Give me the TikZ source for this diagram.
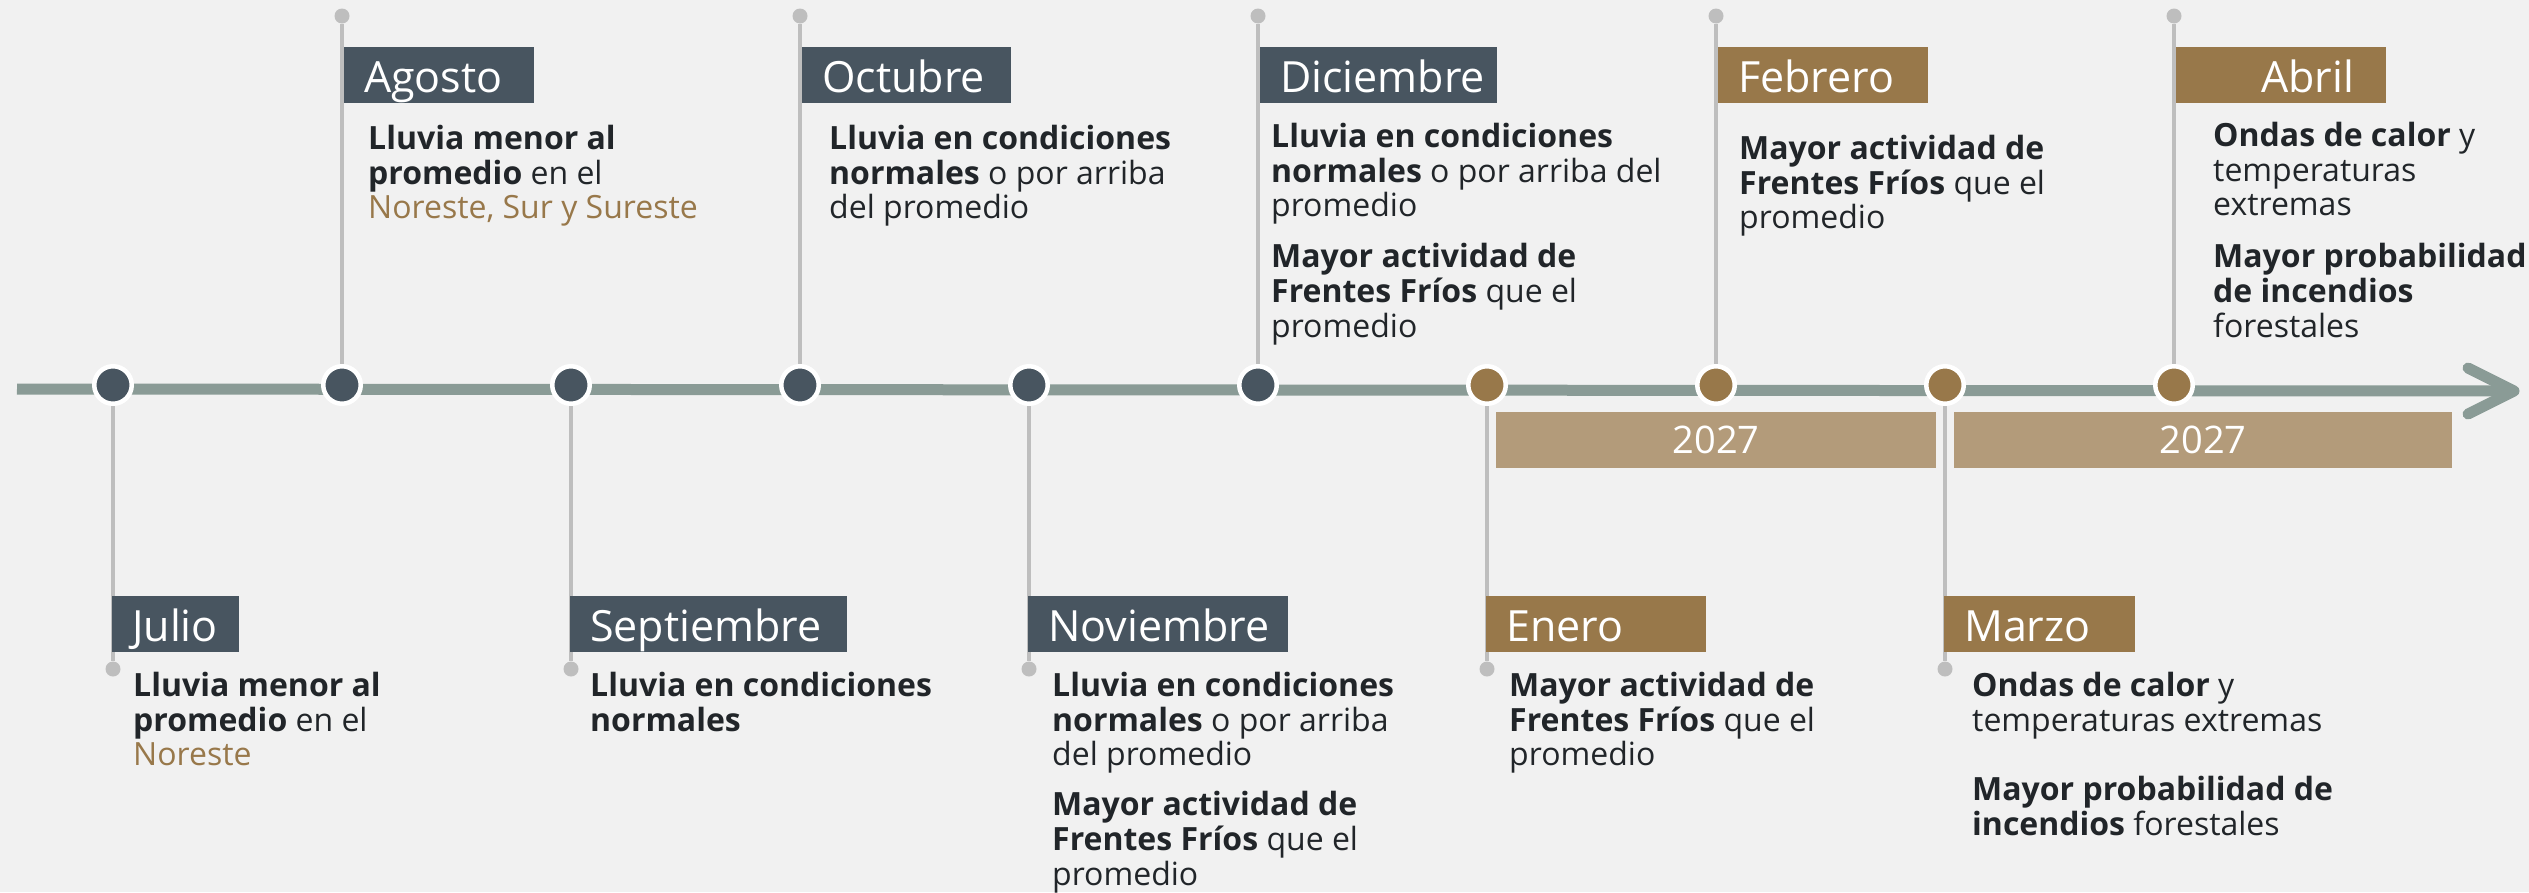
\documentclass[tikz,border=0pt]{standalone}
\usepackage{fontspec}
\setmainfont{Open Sans}
\usetikzlibrary{positioning, calc}

\definecolor{bgcol}{RGB}{241,241,241}
\definecolor{axiscol}{RGB}{138,155,150}
\definecolor{slate}{RGB}{72,85,96}
\definecolor{gold}{RGB}{152,120,74}
\definecolor{tan}{RGB}{179,155,122}
\definecolor{ink}{RGB}{33,37,41}
\definecolor{stemcol}{RGB}{190,190,190}

\newcommand{\region}[1]{\textcolor{gold}{#1}}

\tikzset{
    axis/.style={draw=axiscol, line width=11pt},
    dot/.style={circle, draw=white, line width=4.5pt, minimum size=37.5pt, inner sep=0pt},
    pin/.style={circle, fill=stemcol, minimum size=15pt, inner sep=0pt},
    stem/.style={draw=stemcol, line width=4.5pt},
    monthlabel/.style={rectangle, anchor=north west, minimum height=56pt, inner xsep=20pt, inner ysep=0pt,
        text height=34pt, text depth=0pt, text=white, align=left, font=\fontsize{43}{48}\selectfont},
    % first baseline sits 25pt below the node top
    bodytext/.style={anchor=north west, inner sep=0pt, align=left, text=ink,
        font=\fontsize{32}{34.7}\selectfont, execute at begin node=\rule{0pt}{25pt}},
    yearbar/.style={rectangle, fill=tan, minimum height=56pt, inner sep=0pt, text=white,
        font=\fontsize{38}{40}\selectfont},
}

\begin{document}
\begin{tikzpicture}[x=1pt, y=-1pt]
        \useasboundingbox (0,0) rectangle (2529,892);
        \fill[bgcol] (0,0) rectangle (2529,892);

        % timeline
        \coordinate (start) at (17,389);
        \coordinate (tip) at (2514,391);
        \draw[axis] (start) -- (tip);
        \draw[axis, line cap=round, line join=round] ($(tip)+(-46,-23)$) -- (tip) -- ($(tip)+(-46,23)$);

        % year bars
        \node[yearbar, minimum width=440pt] (yr1) at (1716,440) {2027};
        \node[yearbar, minimum width=498pt] (yr2) at (2203,440) {2027};

        % month dots
        \foreach \name/\i/\col in {jul/0/slate, ago/1/slate, sep/2/slate, oct/3/slate, nov/4/slate,
                                   dic/5/slate, ene/6/gold, feb/7/gold, mar/8/gold, abr/9/gold}{
            \node[dot, fill=\col] (\name) at (113+229*\i, 385) {};
        }

        % stems above the line
        \foreach \name/\i in {ago/1, oct/3, dic/5, feb/7, abr/9}{
            \node[pin] (\name pin) at (113+229*\i, 16) {};
            \draw[stem] (\name pin) -- (\name);
        }

        % stems below the line
        \foreach \name/\i in {jul/0, sep/2, nov/4, ene/6, mar/8}{
            \node[pin] (\name pin) at (113+229*\i, 669) {};
            \draw[stem] (\name) -- (\name pin);
        }

        % month labels
        \node[monthlabel, fill=slate, text width=87pt] (jullab) at (112,596) {Julio};
        \node[monthlabel, fill=slate, text width=150pt] (agolab) at (344,47) {Agosto};
        \node[monthlabel, fill=slate, text width=237pt] (seplab) at (570,596) {Septiembre};
        \node[monthlabel, fill=slate, text width=169pt] (octlab) at (802,47) {Octubre};
        \node[monthlabel, fill=slate, text width=220pt] (novlab) at (1028,596) {Noviembre};
        \node[monthlabel, fill=slate, text width=197pt] (diclab) at (1260,47) {Diciembre};
        \node[monthlabel, fill=gold, text width=180pt] (enelab) at (1486,596) {Enero};
        \node[monthlabel, fill=gold, text width=170pt] (feblab) at (1718,47) {Febrero};
        \node[monthlabel, fill=gold, text width=151pt] (marlab) at (1944,596) {Marzo};
        \node[monthlabel, fill=gold, text width=170pt, align=right] (abrlab) at (2176,47) {Abril\hspace*{12pt}};

        % texts
        \node[bodytext] (jultxt) at (133,672) {\textbf{Lluvia menor al}\\\textbf{promedio} en el\\\region{Noreste}};
        \node[bodytext] (agotxt) at (368,125) {\textbf{Lluvia menor al}\\\textbf{promedio} en el\\\region{Noreste, Sur y Sureste}};
        \node[bodytext] (septxt) at (590,672) {\textbf{Lluvia en condiciones}\\\textbf{normales}};
        \node[bodytext] (octtxt) at (829,125) {\textbf{Lluvia en condiciones}\\\textbf{normales} o por arriba\\del promedio};
        \node[bodytext] (novtxt) at (1052,672) {\textbf{Lluvia en condiciones}\\\textbf{normales} o por arriba\\del promedio\\[15pt]
            \textbf{Mayor actividad de}\\\textbf{Frentes Fríos} que el\\promedio};
        \node[bodytext] (dictxt) at (1271,123) {\textbf{Lluvia en condiciones}\\\textbf{normales} o por arriba del\\promedio\\[16pt]
            \textbf{Mayor actividad de}\\\textbf{Frentes Fríos} que el\\promedio};
        \node[bodytext] (enetxt) at (1509,672) {\textbf{Mayor actividad de}\\\textbf{Frentes Fríos} que el\\promedio};
        \node[bodytext] (febtxt) at (1739,135) {\textbf{Mayor actividad de}\\\textbf{Frentes Fríos} que el\\promedio};
        \node[bodytext] (martxt) at (1972,672) {\textbf{Ondas de calor} y\\temperaturas extremas\\[35pt]
            \textbf{Mayor probabilidad de}\\\textbf{incendios} forestales};
        \node[bodytext] (abrtxt) at (2213,122) {\textbf{Ondas de calor} y\\temperaturas\\extremas\\[17pt]
            \textbf{Mayor probabilidad}\\\textbf{de incendios}\\forestales};
    \end{tikzpicture}
\end{document}
